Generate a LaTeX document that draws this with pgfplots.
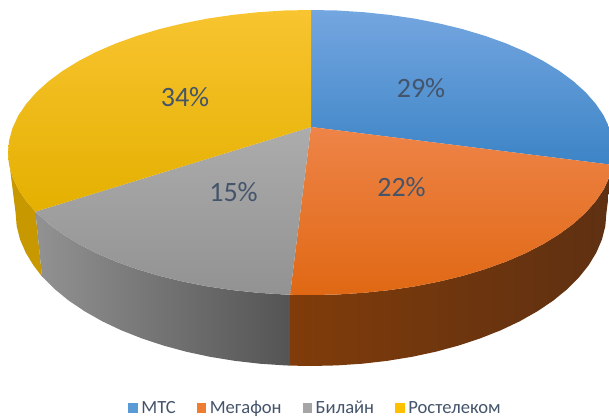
\documentclass[border=0pt]{standalone}
\usepackage{pgfplots}
\pgfplotsset{compat=1.18}
\usepackage{fontspec}
\setmainfont{Carlito}
\definecolor{lab}{HTML}{44546A}
\definecolor{lblue}{HTML}{5B9BD5}
\definecolor{lorange}{HTML}{ED7D31}
\definecolor{lgray}{HTML}{A5A5A5}
\definecolor{lyellow}{HTML}{FFC000}
\definecolor{ya}{HTML}{C79800}
\definecolor{yb}{HTML}{CFA100}
\definecolor{ga}{HTML}{929292}
\definecolor{gb}{HTML}{545454}
\definecolor{ba}{HTML}{803C0A}
\definecolor{bb}{HTML}{5A2A0A}
\definecolor{bc}{HTML}{5E3012}
\pgfplotsset{
  face/.style={forget plot,no marks,draw=none},
}
\begin{document}
\begin{tikzpicture}
\useasboundingbox (0,0) rectangle (609pt,418pt);
\begin{axis}[
  at={(0,0)},anchor=south west,
  hide axis,scale only axis,width=609pt,height=418pt,
  xmin=0,xmax=609,ymin=0,ymax=418,y dir=reverse,
  area legend,
  legend image code/.code={\fill[#1] (0pt,-4.6pt) rectangle (9.6pt,5pt);},
  legend columns=4,
  legend style={at={(axis cs:315.5,408)},anchor=center,draw=none,fill=none,
    font=\fontsize{18.6}{20}\selectfont\color{lab},inner xsep=0pt,inner ysep=0pt,
    /tikz/every odd column/.style={column sep=1.5pt},
    /tikz/every even column/.style={column sep=19pt}},
]
% ---- side walls (yellow)
\addplot[face,fill=ya] coordinates {(35.4,211.6)(26.3,201.2)(18.3,189.4)(12.6,177.2)(9.2,164.9)(8,152.5)(15.6,213)(16.7,226.3)(20.1,239.6)(25.7,252.6)(33.4,265.3)(42,276.5)} -- cycle;
% ---- side wall (gray)
\addplot[face,left color=ga,right color=gb] coordinates {(35.4,211.6)(48.6,223.75)(62.8,234.2)(78.9,244.1)(96.7,253.3)(116.2,261.7)(137.2,269.2)(159.5,275.9)(183,281.6)(207.4,286.4)(232.6,290.1)(258.4,292.8)(284.6,294.5)(290,294.7)(290.4,365.6)(285.2,365.4)(259.7,363.7)(234.5,360.8)(210,356.8)(186.2,351.7)(163.3,345.5)(141.6,338.3)(121.1,330.2)(102.1,321.2)(84.7,311.3)(69,300.8)(55.2,289.5)(42,276.5)} -- cycle;
% ---- side wall (brown)
\addplot[face,left color=ba,middle color=bb,right color=bc] coordinates {(290,294.7)(311,295)(337.4,294.5)(363.6,292.8)(389.4,290.1)(414.6,286.4)(439,281.6)(462.5,275.9)(484.8,269.2)(505.8,261.7)(525.3,253.3)(543.1,244.1)(559.2,234.2)(573.4,223.75)(585.6,212.7)(595.7,201.2)(603.7,189.4)(609.4,177.2)(612.8,164.9)(614,152.5)(606.4,213)(605.3,226.3)(601.9,239.6)(596.3,252.6)(588.6,265.3)(578.7,277.7)(566.8,289.5)(553,300.8)(537.3,311.3)(519.9,321.2)(500.9,330.2)(480.4,338.3)(458.7,345.5)(435.8,351.7)(412,356.8)(387.5,360.8)(362.3,363.7)(336.8,365.4)(311,366)(290.4,365.6)} -- cycle;
% ---- top faces
\addplot[face,top color={rgb,255:red,116;green,166;blue,224},middle color={rgb,255:red,82;green,150;blue,216},bottom color={rgb,255:red,60;green,132;blue,198}] coordinates {
 (311,127)(311,10)(337.4,10.5)(363.6,12.2)(389.4,14.9)(414.6,18.6)(439,23.4)(462.5,29.1)(484.8,35.8)(505.8,43.3)(525.3,51.7)(543.1,60.9)(559.2,70.8)(573.4,81.25)(585.6,92.3)(595.7,103.8)(603.7,115.6)(609.4,127.8)(612.8,140.1)(614,152.5)(612.8,164.9)} -- cycle;
\addplot[face,top color={rgb,255:red,238;green,132;blue,72},middle color={rgb,255:red,240;green,118;blue,34},bottom color={rgb,255:red,224;green,104;blue,20}] coordinates {
 (311,127)(612.8,164.9)(609.4,177.2)(603.7,189.4)(595.7,201.2)(585.6,212.7)(573.4,223.75)(559.2,234.2)(543.1,244.1)(525.3,253.3)(505.8,261.7)(484.8,269.2)(462.5,275.9)(439,281.6)(414.6,286.4)(389.4,290.1)(363.6,292.8)(337.4,294.5)(311,295)(290,294.7)} -- cycle;
\addplot[face,top color={rgb,255:red,172;green,172;blue,172},bottom color={rgb,255:red,146;green,146;blue,146}] coordinates {
 (311,127)(290,294.7)(284.6,294.5)(258.4,292.8)(232.6,290.1)(207.4,286.4)(183,281.6)(159.5,275.9)(137.2,269.2)(116.2,261.7)(96.7,253.3)(78.9,244.1)(62.8,234.2)(48.6,223.75)(35.4,211.6)} -- cycle;
\addplot[face,top color={rgb,255:red,248;green,196;blue,48},middle color={rgb,255:red,255;green,192;blue,0},bottom color={rgb,255:red,228;green,176;blue,0}] coordinates {
 (311,127)(35.4,211.6)(26.3,201.2)(18.3,189.4)(12.6,177.2)(9.2,164.9)(8,152.5)(9.2,140.1)(12.6,127.8)(18.3,115.6)(26.3,103.8)(36.4,92.3)(48.6,81.25)(62.8,70.8)(78.9,60.9)(96.7,51.7)(116.2,43.3)(137.2,35.8)(159.5,29.1)(183,23.4)(207.4,18.6)(232.6,14.9)(258.4,12.2)(284.6,10.5)(311,10)} -- cycle;
% ---- labels
\node[font=\fontsize{28}{30}\selectfont,text=lab] at (axis cs:421,88) {29\%};
\node[font=\fontsize{28}{30}\selectfont,text=lab] at (axis cs:401.5,187) {22\%};
\node[font=\fontsize{28}{30}\selectfont,text=lab] at (axis cs:233.5,192) {15\%};
\node[font=\fontsize{28}{30}\selectfont,text=lab] at (axis cs:185,97) {34\%};
% ---- legend
\addlegendimage{fill=lblue,draw=none}\addlegendentry{МТС}
\addlegendimage{fill=lorange,draw=none}\addlegendentry{Мегафон}
\addlegendimage{fill=lgray,draw=none}\addlegendentry{Билайн}
\addlegendimage{fill=lyellow,draw=none}\addlegendentry{Ростелеком}
\end{axis}
\end{tikzpicture}
\end{document}
